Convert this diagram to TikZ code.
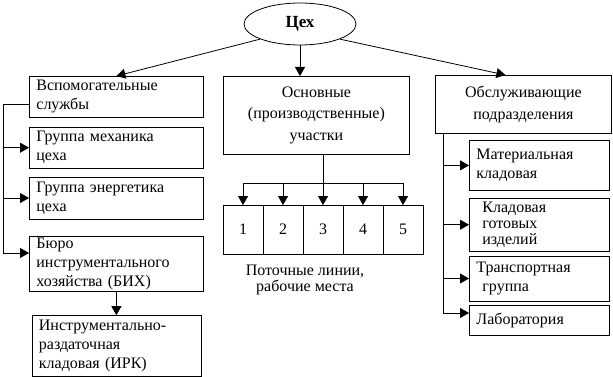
\documentclass[tikz,border=0pt]{standalone}
\usepackage{fontspec}
\setmainfont{Liberation Serif}
\usepackage{tikz}
\usetikzlibrary{shapes.geometric, arrows.meta, positioning, calc}

\begin{document}
\begin{tikzpicture}[
  x=1pt, y=-1pt,
  every node/.style={font=\fontsize{16}{19}\selectfont},
  unit/.style={rectangle, draw, line width=0.8pt, align=left, inner xsep=7pt, inner ysep=0pt},
  cell/.style={rectangle, draw, line width=0.8pt, outer sep=0pt, minimum width=40pt, minimum height=49pt},
  arr/.style={-{Triangle[length=9pt, width=10pt]}, line width=0.8pt},
  bus/.style={line width=0.8pt},
]
\useasboundingbox (0,0) rectangle (613,377);

\node[ellipse, draw, line width=0.8pt, minimum width=112pt, minimum height=42pt, font=\fontsize{17}{19}\selectfont\bfseries] (tsekh) at (300,24) {Цех};

% left column
\node[unit, anchor=north west, minimum width=174pt, minimum height=41pt, text width=160pt] (vsp) at (29,76) {Вспомогательные\\службы};
\node[unit, below=9pt of vsp, minimum width=174pt, minimum height=41pt, text width=160pt] (mech) {Группа механика\\цеха};
\node[unit, below=8pt of mech, minimum width=174pt, minimum height=42pt, text width=160pt] (energ) {Группа энергетика\\цеха};
\node[unit, below=17pt of energ, minimum width=174pt, minimum height=55pt, text width=160pt] (bih) {Бюро\\инструментального\\хозяйства (БИХ)};
\node[unit, below=23pt of bih, minimum width=169pt, minimum height=61pt, text width=155pt] (irk) {Инструментально-\\раздаточная\\кладовая (ИРК)};

% middle column
\node[unit, anchor=north west, align=center, minimum width=186pt, minimum height=78pt, text width=172pt, font=\fontsize{16}{21.5}\selectfont] (osn) at (223,76) {Основные\\(производственные)\\участки};
\node[cell, anchor=north west] (c1) at (223,205) {1};
\node[cell, right=0pt of c1] (c2) {2};
\node[cell, right=0pt of c2] (c3) {3};
\node[cell, right=0pt of c3] (c4) {4};
\node[cell, right=0pt of c4] (c5) {5};
\node[align=center, font=\fontsize{16}{16}\selectfont] (potok) at (305,280) {Поточные линии,\\рабочие места};

% right column
\node[unit, anchor=north west, align=center, minimum width=176pt, minimum height=58pt, text width=162pt, font=\fontsize{16}{22}\selectfont] (obs) at (435,75) {Обслуживающие\\подразделения};
\node[unit, anchor=north west, minimum width=140pt, minimum height=50pt, text width=126pt] (mat) at (469,140) {Материальная\\кладовая};
\node[unit, below=7pt of mat, minimum width=140pt, minimum height=53pt, text width=126pt, font=\fontsize{16}{16}\selectfont] (klad) {\hspace*{6pt}Кладовая\\\hspace*{6pt}готовых\\\hspace*{6pt}изделий};
\node[unit, below=4pt of klad, minimum width=140pt, minimum height=45pt, text width=126pt] (trans) {Транспортная\\\hspace*{6pt}группа};
\node[unit, below=4pt of trans, minimum width=140pt, minimum height=30pt, text width=126pt] (lab) {Лаборатория};

% from the shop
\draw[arr] (tsekh.south west) -- (vsp.north);
\draw[arr] (tsekh.south) -- (tsekh.south |- osn.north);
\draw[arr] (tsekh.south east) -- ([xshift=-18pt]obs.north);

% auxiliary services
\coordinate (lbus) at (3,253);
\draw[bus] ([yshift=-8pt]vsp.west) -| (lbus);
\draw[arr] (lbus |- mech.west) -- (mech.west);
\draw[arr] (lbus |- energ.west) -- (energ.west);
\draw[arr] (lbus) -- (lbus -| bih.west);
\draw[arr] (bih.south) -- (irk.north);

% production lines
\coordinate (mbus) at (0,183);
\draw[arr] (osn.south -| c3.north) -- (c3.north);
\draw[bus] (c1 |- mbus) -- (c5 |- mbus);
\draw[arr] (c1 |- mbus) -- (c1.north);
\draw[arr] (c2 |- mbus) -- (c2.north);
\draw[arr] (c4 |- mbus) -- (c4.north);
\draw[arr] (c5 |- mbus) -- (c5.north);

% service units
\coordinate (rbus) at (443,313);
\draw[bus] (obs.south -| rbus) -- (rbus);
\draw[arr] (rbus |- mat.west) -- (mat.west);
\draw[arr] (rbus |- klad.west) -- (klad.west);
\draw[arr] (rbus |- trans.west) -- (trans.west);
\draw[arr] (rbus) -- (rbus -| lab.west);
\end{tikzpicture}
\end{document}
